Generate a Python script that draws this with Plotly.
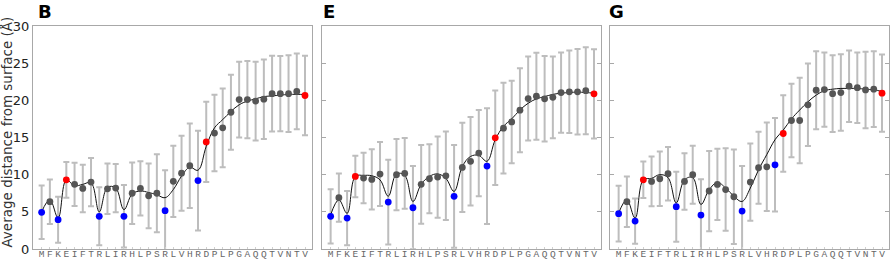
import plotly.graph_objects as go

residues = list("MFKEIFTRLIRHLPSRLVHRDPLPGAQQTVNTV")
# point class: b = blue, r = red, g = grey
point_class = ["b", "g", "b", "r", "g", "g", "g", "b", "g", "g", "b", "g", "g", "g", "g", "b",
               "g", "g", "g", "b", "r", "g", "g", "g", "g", "g", "g", "g", "g", "g", "g", "g", "r"]

B_mean = [4.93, 6.36, 3.94, 9.3, 8.7, 8.15, 9.0, 4.4, 8.1, 8.2, 4.4, 7.5, 8.15, 7.15, 7.5, 5.15,
          9.1, 10.2, 11.2, 9.2, 14.4, 15.6, 16.3, 18.4, 20.1, 20.1, 19.9, 20.15, 20.9, 20.9, 20.9, 21.2, 20.65]
B_sd = [3.6, 3.0, 3.1, 2.4, 2.9, 3.2, 3.25, 3.9, 3.4, 3.25, 4.2, 4.15, 3.65, 4.35, 5.25, 5.45,
        4.8, 5.05, 5.7, 6.7, 5.4, 5.15, 5.3, 5.05, 5.1, 5.2, 5.3, 5.35, 5.1, 5.05, 5.15, 5.1, 5.35]
B_fit = [5.0, 6.6, 4.2, 9.3, 8.5, 8.7, 8.9, 5.0, 8.3, 8.2, 5.3, 7.4, 7.8, 7.6, 7.3, 6.9,
         8.0, 9.8, 11.0, 10.6, 13.8, 16.3, 17.4, 18.5, 19.4, 19.9, 20.2, 20.5, 20.6, 20.7, 20.8, 20.8, 20.8]

E_mean = [4.39, 6.9, 4.16, 9.76, 9.54, 9.36, 10.08, 6.31, 10.0, 10.17, 5.55, 8.7, 9.45, 9.67, 9.85, 7.08,
          10.97, 11.8, 12.9, 11.15, 14.96, 16.26, 17.1, 18.67, 20.24, 20.55, 20.2, 20.4, 21.05, 21.14, 21.14, 21.3, 20.87]
E_sd = [3.65, 3.25, 3.65, 2.8, 3.4, 4.05, 4.3, 5.7, 4.8, 4.75, 5.6, 5.3, 4.65, 5.45, 5.95, 6.9,
        6.0, 5.95, 5.8, 7.8, 6.35, 6.1, 5.55, 5.65, 5.65, 5.85, 5.75, 5.5, 5.4, 5.55, 5.75, 5.85, 6.0]
E_fit = [4.6, 6.6, 4.8, 9.76, 9.9, 9.85, 9.3, 7.1, 10.1, 9.9, 6.4, 8.7, 9.76, 10.1, 9.5, 7.75,
         11.1, 12.45, 12.6, 11.8, 14.7, 16.5, 17.5, 18.7, 19.6, 20.2, 20.5, 20.8, 20.96, 21.05, 21.1, 21.05, 20.96]

G_mean = [4.75, 6.36, 3.76, 9.31, 9.09, 9.45, 10.12, 5.69, 9.09, 9.99, 4.57, 7.8, 8.69, 8.0, 7.03, 5.1,
          9.0, 10.93, 11.06, 11.33, 15.54, 17.29, 17.29, 19.39, 21.36, 21.45, 20.9, 21.05, 21.9, 21.7, 21.4, 21.5, 20.96]
G_sd = [3.75, 3.4, 3.05, 2.45, 3.35, 3.65, 3.6, 4.7, 3.8, 3.9, 4.8, 5.4, 4.8, 5.55, 6.35, 6.05,
        5.2, 4.85, 5.95, 6.3, 5.15, 4.95, 5.75, 5.55, 5.25, 5.0, 5.15, 5.15, 4.8, 4.75, 5.15, 5.1, 5.2]
G_fit = [4.84, 6.6, 4.16, 9.31, 9.5, 10.0, 9.6, 6.2, 9.3, 9.6, 6.0, 7.97, 8.96, 8.2, 7.1, 6.4,
         8.2, 10.66, 12.7, 14.7, 16.0, 17.5, 18.7, 19.8, 20.7, 21.3, 21.5, 21.6, 21.6, 21.6, 21.5, 21.4, 21.2]

panel_labels = ["B", "E", "G"]
y_ticks = [0, 5, 10, 15, 20, 25, 30]
y_title = "Average distance from surface (Å)"

W, H = 892, 261
ML, MR, MT, MB = 0, 0, 26, 12
domains_px = [(33, 312), (322, 601), (610, 889)]
class_colors = {"b": "#0000ff", "r": "#ff0000", "g": "#555555"}
frame_col = "#a8a8a8"
err_col = "#bdbdbd"

xpos = list(range(len(residues)))
panels = [(B_mean, B_sd, B_fit), (E_mean, E_sd, E_fit), (G_mean, G_sd, G_fit)]

fig = go.Figure()
for i, (mean, sd, fit) in enumerate(panels):
    xa = "x" if i == 0 else f"x{i+1}"
    ya = "y" if i == 0 else f"y{i+1}"
    # error bars
    fig.add_trace(go.Scatter(
        x=xpos, y=mean, mode="markers", xaxis=xa, yaxis=ya,
        marker=dict(size=6.8, color="rgba(0,0,0,0)"),
        error_y=dict(type="data", array=sd, visible=True, color=err_col, thickness=2, width=3),
        showlegend=False, hoverinfo="skip"))
    # fitted curve
    fig.add_trace(go.Scatter(
        x=xpos, y=fit, mode="lines", xaxis=xa, yaxis=ya,
        line=dict(color="#111111", width=1, shape="spline", smoothing=1.1),
        showlegend=False, hoverinfo="skip"))
    # points
    fig.add_trace(go.Scatter(
        x=xpos, y=mean, mode="markers", xaxis=xa, yaxis=ya,
        marker=dict(size=6.8, color=[class_colors[c] for c in point_class], line=dict(width=0)),
        showlegend=False))

layout = dict(
    width=W, height=H,
    margin=dict(l=ML, r=MR, t=MT, b=MB),
    paper_bgcolor="white", plot_bgcolor="white",
    showlegend=False,
)

for i, (x0, x1) in enumerate(domains_px):
    xk = "xaxis" if i == 0 else f"xaxis{i+1}"
    yk = "yaxis" if i == 0 else f"yaxis{i+1}"
    ya = "y" if i == 0 else f"y{i+1}"
    xa = "x" if i == 0 else f"x{i+1}"
    layout[xk] = dict(
        domain=[x0 / W, x1 / W], anchor=ya, range=[-1.05, 32.85],
        tickmode="array", tickvals=xpos, ticktext=residues,
        ticks="inside", ticklen=2, tickcolor="#d0d0d0", tickwidth=1,
        tickfont=dict(family="Liberation Mono", size=9.5, color="#666666"),
        ticklabelstandoff=-4,
        showgrid=False, zeroline=False, showline=True, linecolor=frame_col, linewidth=1,
        mirror=True, automargin=False)
    ydict = dict(
        domain=[0, 1], anchor=xa, range=[0, 30],
        tickmode="array", tickvals=y_ticks,
        showgrid=False, zeroline=False, showline=True, linecolor=frame_col, linewidth=1,
        tickcolor=frame_col, ticklen=4, tickwidth=1, automargin=False)
    if i == 0:
        ydict.update(ticks="", mirror=True, showticklabels=True,
                     tickfont=dict(family="DejaVu Sans", size=13, color="#222222"))
    else:
        ydict.update(ticks="inside", mirror="ticks", showticklabels=False)
    layout[yk] = ydict

# right-side inner ticks for panel B
layout["yaxis4"] = dict(overlaying="y", side="right", anchor="x", range=[0, 30],
                        tickmode="array", tickvals=y_ticks, ticks="inside", ticklen=4,
                        tickcolor=frame_col, showticklabels=False, showgrid=False,
                        zeroline=False, showline=False, automargin=False)
# left-side outer ticks for panel B
layout["yaxis5"] = dict(overlaying="y", side="left", anchor="x", range=[0, 30],
                        tickmode="array", tickvals=y_ticks, ticks="outside", ticklen=3,
                        tickcolor=frame_col, showticklabels=False, showgrid=False,
                        zeroline=False, showline=False, automargin=False)

fig.update_layout(**layout)

annotations = []
label_x = [36, 321, 607]
for lab, lx in zip(panel_labels, label_x):
    annotations.append(dict(text=f"<b>{lab}</b>", x=lx / W, y=1 + 14.5 / (H - MT - MB),
                            xref="paper", yref="paper", xanchor="left", yanchor="middle",
                            showarrow=False, font=dict(family="DejaVu Sans", size=18, color="black")))
annotations.append(dict(text=y_title, x=7 / W, y=0.522, xref="paper", yref="paper",
                        xanchor="center", yanchor="middle", textangle=-90, showarrow=False,
                        font=dict(family="DejaVu Sans", size=13.5, color="#333333")))
fig.update_layout(annotations=annotations)

fig.write_html("out.html", config={"displayModeBar": False},
               post_script="document.body.style.margin='0';document.body.style.overflow='hidden';")
